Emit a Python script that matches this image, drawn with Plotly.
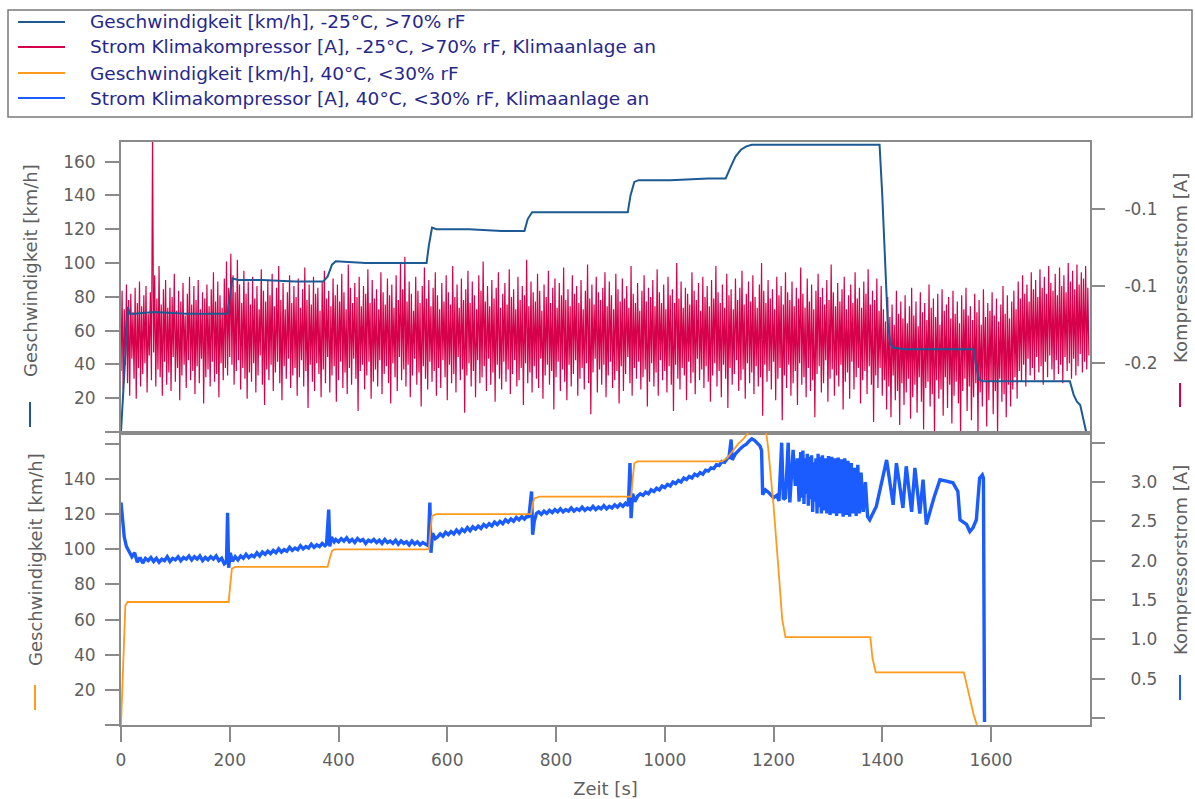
import plotly.graph_objects as go

# ---------------- data ----------------
# top panel: -25 °C, >70 % rF
time_speed_cold = [0, 5, 10, 13, 16, 25, 60, 120, 196, 200, 205, 215, 260, 320, 372, 380, 388, 395, 450, 520,
                   562, 566, 572, 580, 640, 700, 742, 748, 756, 765, 830, 900, 932, 937, 944, 952, 1010, 1080,
                   1112, 1120, 1130, 1140, 1150, 1160, 1200, 1300, 1395, 1400, 1405, 1410, 1415, 1420, 1440,
                   1500, 1568, 1572, 1578, 1585, 1650, 1745, 1752, 1758, 1764, 1770, 1775]
speed_cold = [0, 30, 62, 74, 70, 70, 71, 70, 70, 80, 91, 90, 90, 89, 89, 92, 99, 101, 100, 100,
              100, 110, 121, 120, 120, 119, 119, 126, 130, 130, 130, 130, 130, 140, 148, 149, 149, 150,
              150, 156, 163, 167, 169, 170, 170, 170, 170, 140, 100, 65, 52, 50, 49,
              49, 49, 40, 31, 30, 30, 30, 22, 18, 16, 8, 0]

time_current_cold = list(range(0, 1781, 2))
current_cold = [
    -0.180, -0.128, -0.192, -0.140, -0.176, -0.124, -0.188, -0.134, -0.196, -0.130, -0.172, -0.142, -0.185, -0.126, -0.198, -0.136, -0.178, -0.122, -0.190, -0.138,
    -0.182, -0.131, -0.175, -0.125, -0.194, -0.143, -0.170, -0.129, -0.186, -0.025, -0.168, -0.118, -0.190, -0.133, -0.179, -0.112, -0.184, -0.137, -0.196, -0.127,
    -0.174, -0.121, -0.189, -0.139, -0.181, -0.126, -0.193, -0.132, -0.171, -0.117, -0.187, -0.141, -0.178, -0.128, -0.199, -0.135, -0.183, -0.123, -0.176, -0.144,
    -0.191, -0.130, -0.173, -0.119, -0.186, -0.137, -0.180, -0.125, -0.195, -0.134, -0.177, -0.121, -0.188, -0.140, -0.172, -0.129, -0.201, -0.133, -0.184, -0.124,
    -0.179, -0.138, -0.190, -0.127, -0.174, -0.116, -0.187, -0.135, -0.182, -0.122, -0.197, -0.131, -0.175, -0.139, -0.186, -0.120, -0.178, -0.109, -0.183, -0.126,
    -0.171, -0.104, -0.176, -0.118, -0.189, -0.129, -0.180, -0.108, -0.173, -0.124, -0.192, -0.136, -0.178, -0.115, -0.185, -0.130, -0.198, -0.122, -0.181, -0.137,
    -0.187, -0.119, -0.175, -0.133, -0.194, -0.125, -0.183, -0.140, -0.170, -0.114, -0.189, -0.128, -0.202, -0.135, -0.179, -0.121, -0.186, -0.131, -0.176, -0.117,
    -0.193, -0.138, -0.181, -0.126, -0.174, -0.112, -0.188, -0.134, -0.199, -0.123, -0.177, -0.140, -0.185, -0.129, -0.172, -0.118, -0.191, -0.136, -0.183, -0.125,
    -0.178, -0.132, -0.196, -0.120, -0.184, -0.139, -0.173, -0.127, -0.190, -0.113, -0.180, -0.134, -0.204, -0.124, -0.176, -0.137, -0.187, -0.119, -0.193, -0.130,
    -0.175, -0.126, -0.182, -0.141, -0.197, -0.122, -0.179, -0.115, -0.188, -0.133, -0.171, -0.128, -0.194, -0.138, -0.183, -0.120, -0.177, -0.131, -0.200, -0.124,
    -0.186, -0.135, -0.174, -0.117, -0.191, -0.129, -0.181, -0.140, -0.195, -0.111, -0.178, -0.126, -0.189, -0.136, -0.172, -0.123, -0.185, -0.132, -0.206, -0.119,
    -0.180, -0.138, -0.176, -0.125, -0.192, -0.130, -0.183, -0.114, -0.174, -0.136, -0.198, -0.121, -0.187, -0.133, -0.179, -0.127, -0.190, -0.140, -0.173, -0.116,
    -0.195, -0.129, -0.182, -0.137, -0.177, -0.120, -0.188, -0.131, -0.201, -0.124, -0.175, -0.139, -0.184, -0.118, -0.193, -0.134, -0.171, -0.110, -0.186, -0.127,
    -0.179, -0.106, -0.190, -0.135, -0.176, -0.122, -0.197, -0.130, -0.183, -0.141, -0.172, -0.119, -0.189, -0.128, -0.181, -0.136, -0.203, -0.125, -0.177, -0.113,
    -0.185, -0.133, -0.192, -0.121, -0.174, -0.138, -0.187, -0.126, -0.180, -0.116, -0.196, -0.131, -0.178, -0.140, -0.191, -0.123, -0.173, -0.135, -0.184, -0.118,
    -0.199, -0.129, -0.176, -0.137, -0.188, -0.112, -0.182, -0.132, -0.194, -0.124, -0.171, -0.139, -0.186, -0.120, -0.179, -0.134, -0.207, -0.127, -0.183, -0.115,
    -0.175, -0.136, -0.190, -0.122, -0.180, -0.131, -0.197, -0.140, -0.173, -0.118, -0.188, -0.128, -0.184, -0.109, -0.177, -0.135, -0.193, -0.125, -0.172, -0.138,
    -0.189, -0.121, -0.181, -0.133, -0.200, -0.126, -0.176, -0.116, -0.185, -0.139, -0.192, -0.130, -0.174, -0.123, -0.187, -0.137, -0.179, -0.114, -0.195, -0.132,
    -0.182, -0.127, -0.173, -0.140, -0.190, -0.119, -0.186, -0.134, -0.178, -0.125, -0.202, -0.131, -0.175, -0.108, -0.188, -0.138, -0.181, -0.122, -0.194, -0.129,
    -0.177, -0.135, -0.185, -0.117, -0.191, -0.128, -0.172, -0.141, -0.198, -0.124, -0.183, -0.132, -0.176, -0.115, -0.189, -0.136, -0.180, -0.126, -0.205, -0.120,
    -0.184, -0.139, -0.174, -0.123, -0.193, -0.131, -0.179, -0.113, -0.187, -0.134, -0.199, -0.127, -0.176, -0.138, -0.190, -0.118, -0.182, -0.130, -0.173, -0.125,
    -0.196, -0.136, -0.185, -0.121, -0.178, -0.140, -0.192, -0.128, -0.175, -0.111, -0.188, -0.133, -0.208, -0.124, -0.181, -0.137, -0.172, -0.119, -0.194, -0.129,
    -0.179, -0.134, -0.189, -0.126, -0.176, -0.116, -0.197, -0.138, -0.183, -0.122, -0.174, -0.131, -0.191, -0.140, -0.186, -0.117, -0.180, -0.127, -0.201, -0.135,
    -0.177, -0.120, -0.193, -0.133, -0.182, -0.125, -0.171, -0.139, -0.188, -0.112, -0.196, -0.130, -0.178, -0.136, -0.185, -0.123, -0.174, -0.141, -0.192, -0.128,
    -0.184, -0.118, -0.179, -0.135, -0.203, -0.126, -0.187, -0.132, -0.175, -0.121, -0.190, -0.138, -0.181, -0.114, -0.196, -0.129, -0.173, -0.136, -0.186, -0.124,
    -0.180, -0.140, -0.194, -0.119, -0.177, -0.131, -0.189, -0.127, -0.206, -0.136, -0.176, -0.110, -0.185, -0.133, -0.192, -0.122, -0.178, -0.139, -0.183, -0.126,
    -0.199, -0.130, -0.174, -0.137, -0.188, -0.116, -0.181, -0.128, -0.195, -0.134, -0.172, -0.123, -0.186, -0.141, -0.179, -0.119, -0.191, -0.132, -0.177, -0.125,
    -0.187, -0.138, -0.200, -0.121, -0.183, -0.133, -0.175, -0.112, -0.190, -0.129, -0.180, -0.136, -0.197, -0.124, -0.176, -0.139, -0.185, -0.117, -0.204, -0.131,
    -0.178, -0.127, -0.189, -0.140, -0.182, -0.120, -0.173, -0.134, -0.193, -0.126, -0.186, -0.115, -0.179, -0.137, -0.198, -0.130, -0.175, -0.122, -0.188, -0.135,
    -0.181, -0.118, -0.195, -0.132, -0.177, -0.139, -0.190, -0.124, -0.184, -0.110, -0.209, -0.128, -0.176, -0.136, -0.187, -0.121, -0.180, -0.133, -0.192, -0.127,
    -0.174, -0.140, -0.199, -0.119, -0.185, -0.131, -0.178, -0.125, -0.212, -0.137, -0.183, -0.116, -0.191, -0.129, -0.176, -0.134, -0.196, -0.122, -0.188, -0.138,
    -0.180, -0.126, -0.202, -0.133, -0.175, -0.113, -0.189, -0.130, -0.184, -0.139, -0.197, -0.120, -0.178, -0.135, -0.193, -0.124, -0.186, -0.140, -0.210, -0.128,
    -0.182, -0.117, -0.177, -0.132, -0.194, -0.126, -0.188, -0.137, -0.173, -0.121, -0.200, -0.134, -0.185, -0.111, -0.179, -0.129, -0.196, -0.138, -0.183, -0.123,
    -0.190, -0.135, -0.176, -0.127, -0.205, -0.119, -0.187, -0.140, -0.181, -0.131, -0.198, -0.124, -0.174, -0.136, -0.192, -0.116, -0.184, -0.133, -0.178, -0.126,
    -0.201, -0.139, -0.186, -0.122, -0.180, -0.130, -0.195, -0.114, -0.177, -0.137, -0.189, -0.128, -0.213, -0.134, -0.183, -0.120, -0.191, -0.141, -0.178, -0.125,
    -0.196, -0.140, -0.186, -0.148, -0.205, -0.132, -0.190, -0.145, -0.210, -0.137, -0.183, -0.150, -0.199, -0.128, -0.193, -0.143, -0.215, -0.135, -0.188, -0.146,
    -0.202, -0.131, -0.194, -0.149, -0.185, -0.138, -0.211, -0.126, -0.197, -0.144, -0.189, -0.135, -0.207, -0.151, -0.184, -0.129, -0.200, -0.142, -0.218, -0.136,
    -0.191, -0.147, -0.187, -0.124, -0.203, -0.139, -0.195, -0.133, -0.222, -0.145, -0.186, -0.130, -0.198, -0.150, -0.192, -0.127, -0.209, -0.141, -0.184, -0.137,
    -0.204, -0.132, -0.189, -0.146, -0.214, -0.128, -0.196, -0.143, -0.187, -0.135, -0.201, -0.149, -0.222, -0.131, -0.193, -0.140, -0.185, -0.126, -0.206, -0.144,
    -0.190, -0.138, -0.212, -0.147, -0.197, -0.130, -0.188, -0.142, -0.222, -0.134, -0.194, -0.150, -0.203, -0.127, -0.186, -0.145, -0.216, -0.136, -0.199, -0.141,
    -0.187, -0.129, -0.208, -0.144, -0.193, -0.133, -0.222, -0.148, -0.185, -0.137, -0.200, -0.125, -0.195, -0.143, -0.210, -0.131, -0.189, -0.146, -0.203, -0.135,
    -0.192, -0.128, -0.184, -0.140, -0.198, -0.122, -0.180, -0.133, -0.187, -0.118, -0.176, -0.130, -0.190, -0.124, -0.172, -0.135, -0.183, -0.116, -0.178, -0.127,
    -0.186, -0.121, -0.171, -0.132, -0.181, -0.114, -0.177, -0.126, -0.189, -0.119, -0.174, -0.130, -0.184, -0.112, -0.170, -0.123, -0.179, -0.128, -0.186, -0.117,
    -0.173, -0.131, -0.182, -0.113, -0.176, -0.125, -0.188, -0.118, -0.171, -0.129, -0.180, -0.110, -0.175, -0.122, -0.185, -0.115, -0.172, -0.127, -0.183, -0.111,
    -0.177, -0.124, -0.169, -0.116, -0.181, -0.120, -0.174, -0.112, -0.179, -0.126, -0.170,
]

# bottom panel: 40 °C, <30 % rF
time_speed_hot = [0, 4, 8, 12, 100, 198, 201, 204, 210, 300, 380, 384, 388, 392, 480, 566, 569, 572, 580, 680,
                  754, 757, 760, 770, 860, 938, 941, 944, 950, 1040, 1105, 1115, 1125, 1135, 1145, 1155, 1165,
                  1185, 1190, 1200, 1210, 1216, 1222, 1230, 1300, 1378, 1382, 1388, 1460, 1550, 1556, 1562,
                  1568, 1574]
speed_hot = [0, 40, 68, 70, 70, 70, 80, 89, 90, 90, 90, 95, 99, 100, 100, 100, 110, 119, 120, 120,
             120, 126, 129, 130, 130, 130, 140, 149, 150, 150, 150, 152, 156, 160, 163, 167, 170,
             170, 158, 125, 85, 60, 50, 50, 50, 50, 38, 30, 30, 30, 22, 14,
             6, 0]

time_current_hot = [
    0, 3, 6, 10, 15, 20, 25, 30, 35, 40, 45, 50, 55, 60, 65, 70, 75, 80, 85, 90, 95, 100, 105, 110, 115, 120, 125, 130,
    135, 140, 145, 150, 155, 160, 165, 170, 175, 180, 185, 190, 194,
    196, 198, 201, 205, 210, 215, 220, 225, 230, 235, 240, 245, 250, 255, 260, 265, 270, 275, 280, 285, 290, 295, 300,
    305, 310, 315, 320, 325, 330, 335, 340, 345, 350, 355, 360, 365, 370, 375, 378,
    382, 384, 387, 392, 395, 400, 405, 410, 415, 420, 425, 430, 435, 440, 445, 450, 455, 460, 465, 470, 475, 480, 485,
    490, 495, 500, 505, 510, 515, 520, 525, 530, 535, 540, 545, 550, 555, 560, 565,
    568, 570, 573, 578, 582, 587, 592, 597, 602, 607, 612, 617, 622, 627, 632, 637, 642, 647, 652, 657, 662, 667, 672,
    677, 682, 687, 692, 697, 702, 707, 712, 717, 722, 727, 732, 737, 742, 747, 750,
    755, 757, 760, 764, 768, 773, 778, 783, 788, 793, 798, 803, 808, 813, 818, 823, 828, 833, 838, 843, 848, 853, 858,
    863, 868, 873, 878, 883, 888, 893, 898, 903, 908, 913, 918, 923, 928, 933,
    936, 938, 941, 945, 950, 955, 960, 965, 970, 975, 980, 985, 990, 995, 1000, 1005, 1010, 1015, 1020, 1025, 1030,
    1035, 1040, 1045, 1050, 1055, 1060, 1065, 1070, 1075, 1080, 1085, 1090, 1095, 1100, 1105, 1110, 1115,
    1118, 1122, 1124, 1130, 1135, 1140, 1145, 1150, 1155, 1160, 1165, 1170, 1175, 1178,
    1180, 1185, 1192, 1200, 1206, 1210, 1215, 1218, 1222, 1227, 1230, 1236, 1240, 1244, 1247,
    1250, 1252, 1254, 1256, 1258, 1260, 1262, 1264, 1266, 1268, 1270, 1272, 1274, 1276, 1278, 1280, 1282, 1284, 1286, 1288,
    1290, 1292, 1295, 1298, 1301, 1304, 1307, 1310, 1313, 1316, 1319, 1322, 1325, 1328, 1331, 1334, 1337, 1340, 1343, 1346,
    1349, 1352, 1355, 1358, 1361, 1365, 1369, 1373, 1377,
    1389, 1408, 1420, 1426, 1438, 1444, 1454, 1460, 1469, 1475, 1481, 1495, 1506, 1518, 1530, 1539, 1543, 1555, 1561, 1567,
    1573, 1579, 1584, 1586, 1588,
]
current_hot = [
    2.74, 2.55, 2.30, 2.18, 2.12, 2.05, 2.10, 1.98, 2.04, 1.97, 2.03, 2.00, 2.04, 1.99, 2.03, 1.98, 2.02, 2.00, 2.05, 1.99,
    2.03, 2.01, 2.05, 2.00, 2.04, 2.02, 2.06, 2.01, 2.05, 2.02, 2.06, 2.00, 2.04, 2.01, 2.05, 2.02, 2.06, 2.00, 2.03, 1.96, 1.98,
    2.61, 1.91, 2.10, 1.99, 2.05, 2.01, 2.06, 2.03, 2.08, 2.04, 2.07, 2.05, 2.10, 2.06, 2.11, 2.08, 2.12, 2.09, 2.13, 2.10,
    2.15, 2.11, 2.14, 2.12, 2.17, 2.13, 2.16, 2.14, 2.19, 2.15, 2.18, 2.16, 2.21, 2.17, 2.20, 2.18, 2.22, 2.19, 2.21,
    2.65, 2.18, 2.30, 2.24, 2.27, 2.24, 2.28, 2.25, 2.29, 2.24, 2.27, 2.23, 2.28, 2.25, 2.27, 2.22, 2.26, 2.24, 2.27, 2.23,
    2.26, 2.22, 2.27, 2.23, 2.25, 2.22, 2.26, 2.21, 2.25, 2.22, 2.24, 2.20, 2.25, 2.21, 2.24, 2.20, 2.23, 2.21, 2.19,
    2.74, 2.10, 2.35, 2.28, 2.30, 2.34, 2.31, 2.36, 2.33, 2.37, 2.34, 2.39, 2.35, 2.40, 2.37, 2.42, 2.38, 2.43, 2.40, 2.44,
    2.41, 2.46, 2.43, 2.47, 2.44, 2.49, 2.46, 2.50, 2.47, 2.52, 2.49, 2.53, 2.50, 2.55, 2.52, 2.56, 2.53, 2.57, 2.55,
    2.88, 2.33, 2.50, 2.60, 2.62, 2.59, 2.63, 2.60, 2.64, 2.61, 2.65, 2.62, 2.66, 2.62, 2.65, 2.63, 2.67, 2.63, 2.66, 2.64,
    2.68, 2.64, 2.67, 2.65, 2.69, 2.65, 2.68, 2.66, 2.70, 2.66, 2.69, 2.67, 2.71, 2.68, 2.72, 2.69, 2.73, 2.70,
    3.24, 2.54, 2.85, 2.75, 2.82, 2.85, 2.83, 2.87, 2.85, 2.90, 2.88, 2.92, 2.90, 2.95, 2.93, 2.97, 2.95, 3.00, 2.98, 3.02,
    3.00, 3.05, 3.03, 3.07, 3.05, 3.10, 3.08, 3.12, 3.10, 3.15, 3.14, 3.18, 3.17, 3.22, 3.21, 3.26, 3.25, 3.30,
    3.31, 3.54, 3.28, 3.36, 3.40, 3.43, 3.46, 3.48, 3.52, 3.55, 3.53, 3.50, 3.46, 3.40,
    2.84, 2.90, 2.86, 2.80, 2.83, 2.76, 3.50, 2.78, 2.80, 3.50, 2.74, 3.41, 2.95, 3.30, 2.75,
    3.38, 2.80, 3.40, 2.72, 3.30, 2.85, 3.36, 2.70, 3.32, 2.78, 3.34, 2.62, 3.25, 2.75, 3.30, 2.60, 3.36, 2.68, 3.32, 2.60,
    3.34, 2.64, 3.30, 2.60, 3.33, 2.58, 3.32, 2.60, 3.30, 2.57, 3.31, 2.60, 3.29, 2.56, 3.30, 2.58, 3.27, 2.56, 3.24, 2.60,
    3.18, 2.57, 3.22, 2.60, 3.12, 2.62, 3.00, 2.56, 2.52,
    2.69, 3.28, 2.71, 3.24, 2.67, 3.20, 2.62, 3.18, 2.60, 3.03, 2.46, 2.80, 3.03, 3.01, 2.99, 2.88, 2.52, 2.46, 2.37, 2.42,
    2.52, 3.05, 3.09, 3.05, -0.05,
]

legend_labels = [
    "Geschwindigkeit [km/h], -25°C, >70% rF",
    "Strom Klimakompressor [A], -25°C, >70% rF, Klimaanlage an",
    "Geschwindigkeit [km/h], 40°C, <30% rF",
    "Strom Klimakompressor [A], 40°C, <30% rF, Klimaanlage an",
]

speed_ticks = [0, 20, 40, 60, 80, 100, 120, 140, 160]
speed_ticktext_top = ["", "20", "40", "60", "80", "100", "120", "140", "160"]
speed_ticktext_bottom = ["", "20", "40", "60", "80", "100", "120", "140", ""]
cold_current_ticks = [-0.175, -0.125, -0.075]
cold_current_ticktext = ["-0.2", "-0.1", "-0.1"]
hot_current_ticks = [0, 0.5, 1.0, 1.5, 2.0, 2.5, 3.0, 3.5]
hot_current_ticktext = ["", "0.5", "1.0", "1.5", "2.0", "2.5", "3.0", ""]
time_ticks = [0, 200, 400, 600, 800, 1000, 1200, 1400, 1600]

# ---------------- styling ----------------
C_SPEED_COLD = "#1d5a94"
C_CUR_COLD = "#d6004b"
C_SPEED_HOT = "#ff9a1c"
C_CUR_HOT = "#1a5cff"
AX = "#8a8a8a"
TXT = "#5f5f5f"
LEG = "#27278a"
FONT = "DejaVu Sans, Liberation Sans, Arial, sans-serif"

W, H = 1195, 799
L, R, T, B = 121, 1090, 142, 725
MID = 433


def px(x):
    return (x - L) / (R - L)


def py(y):
    return (B - y) / (B - T)


split = py(MID)

fig = go.Figure()
fig.add_trace(go.Scatter(x=time_current_cold, y=current_cold, mode="lines",
                         line=dict(color=C_CUR_COLD, width=1.2), xaxis="x", yaxis="y",
                         name=legend_labels[1], showlegend=False))
fig.add_trace(go.Scatter(x=time_speed_cold, y=speed_cold, mode="lines",
                         line=dict(color=C_SPEED_COLD, width=2), xaxis="x", yaxis="y2",
                         name=legend_labels[0], showlegend=False))
fig.add_trace(go.Scatter(x=time_current_hot, y=current_hot, mode="lines",
                         line=dict(color=C_CUR_HOT, width=3.4), xaxis="x2", yaxis="y3",
                         name=legend_labels[3], showlegend=False))
fig.add_trace(go.Scatter(x=time_speed_hot, y=speed_hot, mode="lines",
                         line=dict(color=C_SPEED_HOT, width=1.8), xaxis="x2", yaxis="y4",
                         name=legend_labels[2], showlegend=False))

tickfont = dict(family=FONT, size=17, color=TXT)
common = dict(showgrid=False, zeroline=False, showline=True, linecolor=AX, linewidth=2,
              tickcolor=AX, tickwidth=1.5, tickfont=tickfont, automargin=False)

fig.update_layout(
    width=W, height=H,
    margin=dict(l=L, r=W - R, t=T, b=H - B),
    paper_bgcolor="white", plot_bgcolor="white",
    font=dict(family=FONT),
    xaxis=dict(domain=[0, 1], anchor="y", range=[0, 1782], mirror=True,
               showticklabels=False, ticks="", **common),
    xaxis2=dict(domain=[0, 1], anchor="y3", range=[0, 1782], mirror=True,
                tickvals=time_ticks, ticks="outside", ticklen=15, ticklabelstandoff=4,
                title=dict(text="Zeit [s]", font=dict(family=FONT, size=18, color=TXT), standoff=14),
                **common),
    yaxis=dict(domain=[split, 1], anchor="x", side="right", range=[-0.2202, -0.0316],
               mirror=True, tickvals=cold_current_ticks, ticktext=cold_current_ticktext,
               ticks="outside", ticklen=13, ticklabelstandoff=16, **common),
    yaxis2=dict(overlaying="y", anchor="x", side="left", range=[-0.6, 171.6],
                tickvals=speed_ticks, ticktext=speed_ticktext_top,
                ticks="outside", ticklen=14, ticklabelstandoff=6, **common),
    yaxis3=dict(domain=[0, split], anchor="x2", side="right", range=[-0.089, 3.623],
                mirror=True, tickvals=hot_current_ticks, ticktext=hot_current_ticktext,
                ticks="outside", ticklen=13, ticklabelstandoff=22, **common),
    yaxis4=dict(overlaying="y3", anchor="x2", side="left", range=[0, 166.2],
                tickvals=speed_ticks, ticktext=speed_ticktext_bottom,
                ticks="outside", ticklen=14, ticklabelstandoff=6, **common),
)

shapes = []
annotations = []

# legend box drawn as in the original
shapes.append(dict(type="rect", xref="paper", yref="paper",
                   x0=px(8), x1=px(1192), y0=py(10), y1=py(117),
                   line=dict(color="#7a7a7a", width=1.5), fillcolor="white", layer="below"))
leg_rows = [22, 47, 73, 98]
leg_colors = [C_SPEED_COLD, C_CUR_COLD, C_SPEED_HOT, C_CUR_HOT]
for row, col, lab in zip(leg_rows, leg_colors, legend_labels):
    shapes.append(dict(type="line", xref="paper", yref="paper",
                       x0=px(18), x1=px(65), y0=py(row), y1=py(row),
                       line=dict(color=col, width=2)))
    annotations.append(dict(xref="paper", yref="paper", x=px(88), y=py(row),
                            xanchor="left", yanchor="middle", showarrow=False, text=lab,
                            font=dict(family=FONT, size=18.5, color=LEG)))

# axis titles with colour markers
titles = [
    ("Geschwindigkeit [km/h]", 30, 271, C_SPEED_COLD, 402, 427),
    ("Kompressorstrom [A]", 1180, 268, C_CUR_COLD, 383, 407),
    ("Geschwindigkeit [km/h]", 35, 560, C_SPEED_HOT, 685, 710),
    ("Kompressorstrom [A]", 1180, 560, C_CUR_HOT, 675, 700),
]
for text, xc, yc, col, b0, b1 in titles:
    annotations.append(dict(xref="paper", yref="paper", x=px(xc), y=py(yc),
                            xanchor="center", yanchor="middle", showarrow=False,
                            textangle=-90, text=text,
                            font=dict(family=FONT, size=18, color=TXT)))
    shapes.append(dict(type="line", xref="paper", yref="paper",
                       x0=px(xc), x1=px(xc), y0=py(b0), y1=py(b1),
                       line=dict(color=col, width=2)))

fig.update_layout(shapes=shapes, annotations=annotations)

fig.write_html("out.html")
